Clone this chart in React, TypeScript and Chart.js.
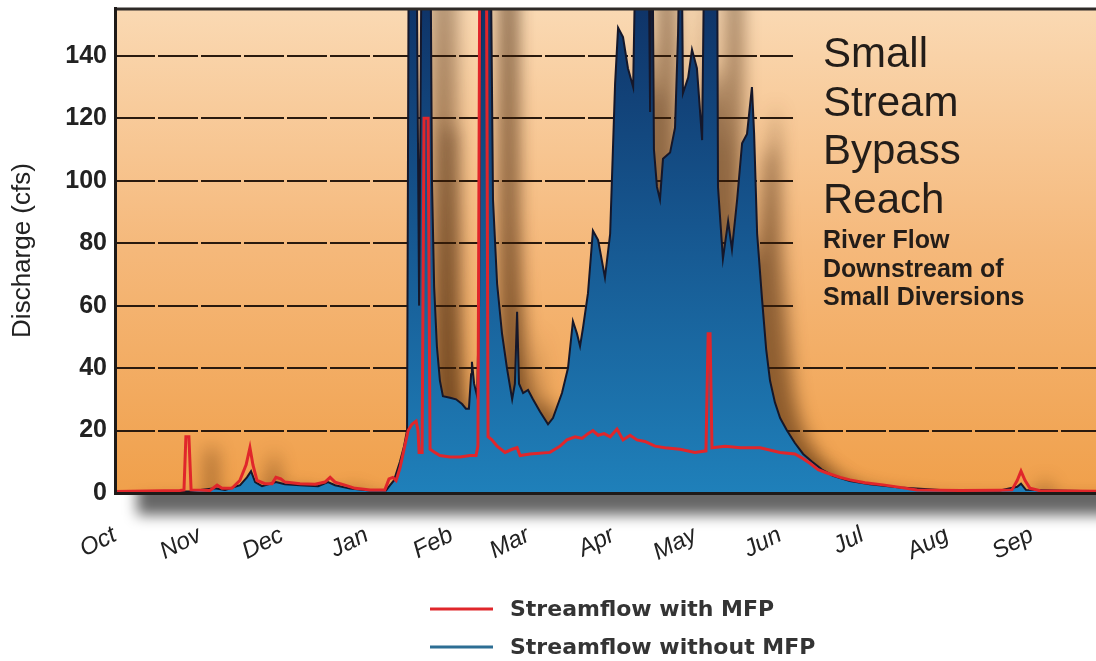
import React, { useEffect, useRef } from 'react';
import { Chart, registerables } from 'chart.js';

Chart.register(...registerables);

// ---- data (day of water year, starting Oct 1) ----
const monthStarts = [0, 31, 61, 92, 123, 151, 182, 212, 243, 273, 304, 335];
const monthLabels = ['Oct', 'Nov', 'Dec', 'Jan', 'Feb', 'Mar', 'Apr', 'May', 'Jun', 'Jul', 'Aug', 'Sep'];
const yTicks = [0, 20, 40, 60, 80, 100, 120, 140];
const seriesNames = ['Streamflow with MFP', 'Streamflow without MFP'];
const titleLines = ['Small', 'Stream', 'Bypass', 'Reach'];
const subtitleLines = ['River Flow', 'Downstream of', 'Small Diversions'];
const yAxisTitle = 'Discharge (cfs)';

const withMfpDays = [
  0, 23.7, 25.2, 25.9, 27.0, 27.8, 34.7, 37.3, 39.1, 42.7, 45.6, 47.9, 49.3, 50.4, 51.9, 54.8, 57.4, 58.8,
  60.6, 62.1, 67.6, 73.1, 76.7, 78.6, 80.4, 84.0, 87.7, 93.2, 98.6, 100.1, 101.5, 102.7, 104.1, 105.6,
  107.1, 108.5, 110.0, 110.7, 111.1, 112.2, 112.9, 114.4, 115.1, 116.9, 118.7, 122.4, 126.1, 129.7, 131.9,
  132.6, 133.4, 135.6, 136.3, 137.7, 139.6, 142.5, 145.1, 146.9, 148.0, 151.6, 158.9, 162.6, 165.1, 168.1,
  170.6, 172.8, 174.6, 176.5, 178.7, 180.9, 183.4, 185.6, 188.2, 190.7, 193.6, 197.3, 200.9, 206.4, 211.9,
  215.9, 216.7, 217.4, 218.1, 222.9, 228.4, 235.7, 243.0, 248.4, 251.4, 253.9, 256.9, 260.1, 264.9, 268.5,
  274.0, 280.6, 286.8, 293.0, 308.7, 323.3, 327.7, 329.6, 331.0, 332.5, 334.3, 338.0, 358.4,
];
const withMfpFlow = [
  0.5, 0.8, 1, 18, 18, 1, 0.8, 2.5, 1.5, 1.5, 4, 9, 14.5, 9, 4, 3, 3, 5,
  4.5, 3.5, 3, 2.8, 3.5, 5, 3.5, 2.5, 1.5, 1, 1, 4.5, 5, 4, 8, 14,
  20, 22, 23, 20, 13, 13, 120, 120, 14, 13, 12, 11.5, 11.5, 12, 12,
  15, 200, 200, 18, 17, 15, 13, 14, 14.5, 12, 12.5, 13, 15, 17, 18,
  17.5, 19, 20, 18.5, 19, 18, 20.5, 17, 18.5, 17, 16.5, 15, 14.5, 14, 13,
  13.5, 51, 51, 14.5, 15, 14.5, 14.5, 13, 12.5, 11, 9.5, 7.5, 6.4, 5, 4.2,
  3.3, 2.6, 1.8, 1, 0.8, 0.9, 1, 4, 7, 4, 1.5, 0.7, 0.6,
];

const withoutMfpDays = [
  0, 25.2, 27.4, 36.5, 40.2, 45.7, 48.2, 49.7, 51.2, 53.7, 58.8, 62.1, 67.6, 74.2, 77.8, 80.4, 85.9, 93.2,
  99.0, 100.5, 101.9, 104.1, 105.6, 106.7, 107.4, 110.0, 111.1, 112.2, 115.1, 115.8, 116.6, 117.6, 118.7,
  119.8, 122.4, 124.6, 126.8, 128.2, 129.3, 130.1, 130.4, 131.2, 132.3, 133.0, 133.7, 137.0, 138.1, 139.6,
  141.4, 143.2, 145.1, 146.1, 146.9, 147.6, 149.1, 150.9, 152.7, 155.3, 158.2, 160.0, 163.3, 165.5, 167.3,
  168.8, 169.9, 171.0, 172.8, 174.6, 176.5, 179.0, 180.9, 182.7, 183.8, 185.6, 187.4, 189.3, 190.7, 194.7,
  195.5, 196.2, 196.9, 198.0, 199.1, 200.2, 202.8, 204.6, 205.7, 206.8, 207.5, 209.4, 210.8, 212.6, 214.5,
  215.6, 219.9, 220.3, 222.1, 224.0, 225.4, 227.3, 229.1, 230.9, 232.7, 233.5, 234.6, 236.4, 237.9, 239.3,
  241.1, 243.0, 245.5, 248.4, 251.4, 254.7, 258.3, 262.3, 268.5, 275.8, 286.8, 301.4, 323.3, 329.6, 331.0,
  332.8, 358.4,
];
const withoutMfpFlow = [
  0.4, 0.5, 0.6, 1.5, 1.0, 2.5, 5, 7, 3.5, 2.2, 3.5, 2.8, 2.5, 2.2, 3.5, 2.5, 1.4, 0.8,
  0.8, 2.5, 4, 10, 15, 20, 200, 200, 60, 200, 200, 100, 66, 47, 36,
  31, 30.5, 30, 28.5, 27, 27, 38, 42, 35, 31, 60, 200, 200, 94, 67,
  51, 40, 30, 35, 58, 35, 32, 33, 30, 26, 22, 24, 32, 40, 55,
  51, 47, 53, 64, 84, 81, 69, 83, 131, 149, 146, 136, 130, 200, 200,
  122, 200, 110, 98, 94, 107, 109, 117, 147, 200, 128, 133, 142, 136, 113,
  200, 200, 98, 75, 87, 78, 94, 112, 115, 130, 115, 83, 62, 46, 36,
  29, 24, 20, 16, 12.5, 10, 7.5, 5.5, 3.8, 2.8, 1.8, 1, 0.8, 2, 3,
  1, 0.6,
];

const SANS = "'Liberation Sans', Arial, Helvetica, sans-serif";
const WIDE = "'DejaVu Sans', Verdana, sans-serif";
const RED = '#e0262b';
const LEGEND_BLUE = '#2d6e94';

const decorPlugin = {
  id: 'decor',
  beforeDraw(chart: any) {
    const { ctx, chartArea: a } = chart;
    ctx.save();
    // drop shadow of the plotting frame
    ctx.filter = 'blur(7px)';
    ctx.fillStyle = 'rgba(0,0,0,0.6)';
    ctx.fillRect(a.left + 22, a.top + 20, a.width + 40, a.height + 2);
    ctx.filter = 'none';
    // orange gradient background
    const g = ctx.createLinearGradient(0, a.top, 0, a.bottom);
    g.addColorStop(0, '#fad9b3');
    g.addColorStop(0.5, '#f5b87a');
    g.addColorStop(1, '#f0a04b');
    ctx.fillStyle = g;
    ctx.fillRect(a.left, a.top, a.width, a.height);
    ctx.restore();
  },
  beforeDatasetsDraw(chart: any) {
    const { ctx, chartArea: a, scales } = chart;
    const textLeft = a.right - 273;
    // gridlines
    ctx.save();
    ctx.strokeStyle = '#2a1a0e';
    ctx.lineWidth = 2;
    ctx.setLineDash([40, 3]);
    yTicks.forEach((v) => {
      if (v === 0) return;
      const py = Math.round(scales.y.getPixelForValue(v));
      const xEnd = v >= 60 ? textLeft - 30 : a.right;
      ctx.beginPath();
      ctx.moveTo(a.left, py);
      ctx.lineTo(xEnd, py);
      ctx.stroke();
    });
    ctx.restore();

    // soft shadow cast by the flow curves
    const blue = chart.getDatasetMeta(1).data;
    const red = chart.getDatasetMeta(0).data;
    ctx.save();
    ctx.beginPath();
    ctx.rect(a.left, a.top, a.width, a.height);
    ctx.clip();
    ctx.translate(24, 14);
    ctx.filter = 'blur(9px)';
    ctx.fillStyle = 'rgba(60,30,5,0.55)';
    ctx.beginPath();
    ctx.moveTo(blue[0].x, a.bottom);
    blue.forEach((p: any) => ctx.lineTo(p.x, p.y));
    ctx.lineTo(blue[blue.length - 1].x, a.bottom);
    ctx.closePath();
    ctx.fill();
    ctx.strokeStyle = 'rgba(60,30,5,0.55)';
    ctx.lineWidth = 5;
    ctx.beginPath();
    red.forEach((p: any, i: number) => (i ? ctx.lineTo(p.x, p.y) : ctx.moveTo(p.x, p.y)));
    ctx.stroke();
    ctx.restore();
  },
  afterDatasetsDraw(chart: any) {
    const { ctx, chartArea: a } = chart;
    ctx.save();
    ctx.strokeStyle = '#2e2a28';
    ctx.lineWidth = 3;
    ctx.beginPath();
    ctx.moveTo(a.left, a.top + 1);
    ctx.lineTo(a.right, a.top + 1);
    ctx.stroke();
    ctx.restore();
  },
  afterDraw(chart: any) {
    const { ctx, chartArea: a } = chart;
    const textLeft = a.right - 273;
    ctx.save();
    ctx.fillStyle = '#231d19';
    ctx.textAlign = 'left';
    ctx.textBaseline = 'alphabetic';
    ctx.font = `42px ${SANS}`;
    titleLines.forEach((t, i) => ctx.fillText(t, textLeft, a.top + 59 + i * 48.7));
    ctx.font = `bold 25px ${SANS}`;
    subtitleLines.forEach((t, i) => ctx.fillText(t, textLeft, a.top + 240 + i * 28.5));

    // legend (stacked)
    const lx = a.left + 315;
    const rows = [
      { y: a.bottom + 116, color: RED, text: seriesNames[0] },
      { y: a.bottom + 154, color: LEGEND_BLUE, text: seriesNames[1] },
    ];
    rows.forEach((r) => {
      ctx.strokeStyle = r.color;
      ctx.lineWidth = 3;
      ctx.beginPath();
      ctx.moveTo(lx, r.y);
      ctx.lineTo(lx + 63, r.y);
      ctx.stroke();
      ctx.fillStyle = '#343434';
      ctx.font = `bold 22px ${WIDE}`;
      ctx.textBaseline = 'middle';
      ctx.fillText(r.text, lx + 80, r.y + 1);
    });
    ctx.restore();
  },
};

export default function App() {
  const ref = useRef<HTMLCanvasElement | null>(null);

  useEffect(() => {
    if (!ref.current) return;
    const redData = withMfpDays.map((d, i) => ({ x: d, y: withMfpFlow[i] }));
    const blueData = withoutMfpDays.map((d, i) => ({ x: d, y: withoutMfpFlow[i] }));

    const chart = new Chart(ref.current, {
      type: 'line',
      data: {
        datasets: [
          {
            label: seriesNames[0],
            data: redData,
            borderColor: RED,
            borderWidth: 3,
            pointRadius: 0,
            fill: false,
            tension: 0,
          },
          {
            label: seriesNames[1],
            data: blueData,
            borderColor: '#15172a',
            borderWidth: 2,
            pointRadius: 0,
            fill: 'origin',
            tension: 0,
            backgroundColor: (c: any) => {
              const a = c.chart.chartArea;
              if (!a) return '#1a6aa6';
              const g = c.chart.ctx.createLinearGradient(0, a.top, 0, a.bottom);
              g.addColorStop(0, '#0f3468');
              g.addColorStop(0.45, '#16568f');
              g.addColorStop(1, '#1f80ba');
              return g;
            },
          },
        ],
      },
      options: {
        animation: false,
        responsive: false,
        layout: { padding: { top: 8, left: 0, right: 0, bottom: 0 } },
        plugins: { legend: { display: false }, tooltip: { enabled: false } },
        scales: {
          x: {
            type: 'linear',
            min: 0,
            max: 358.4,
            grid: { display: false, drawTicks: false },
            border: { display: true, color: '#1e1a18', width: 3, z: 1 },
            afterBuildTicks: (s: any) => {
              s.ticks = monthStarts.map((v) => ({ value: v }));
            },
            ticks: {
              autoSkip: false,
              minRotation: 27,
              maxRotation: 27,
              padding: 28,
              color: '#222',
              font: { family: SANS, size: 24, style: 'italic' },
              callback: (_v: any, i: number) => monthLabels[i],
            },
            afterFit: (s: any) => {
              s.height = 168;
              s.paddingLeft = 0;
              s.paddingRight = 0;
            },
          },
          y: {
            type: 'linear',
            min: 0,
            max: 155.3,
            grid: { display: false, drawTicks: false },
            border: { display: true, color: '#1e1a18', width: 3, z: 1 },
            afterBuildTicks: (s: any) => {
              s.ticks = yTicks.map((v) => ({ value: v }));
            },
            ticks: {
              padding: 8,
              color: '#222',
              font: { family: SANS, size: 25, weight: 'bold' },
            },
            title: {
              display: true,
              text: yAxisTitle,
              color: '#222',
              font: { family: SANS, size: 26 },
              padding: { top: 7, bottom: 0 },
            },
            afterFit: (s: any) => {
              s.width = 115;
              s.paddingTop = 0;
              s.paddingBottom = 0;
            },
          },
        },
      },
      plugins: [decorPlugin],
    } as any);

    return () => chart.destroy();
  }, []);

  return (
    <div style={{ position: 'absolute', left: 0, top: 0, width: 1096, height: 661, background: '#fff' }}>
      <canvas ref={ref} width={1096} height={661} style={{ display: 'block' }} />
    </div>
  );
}
